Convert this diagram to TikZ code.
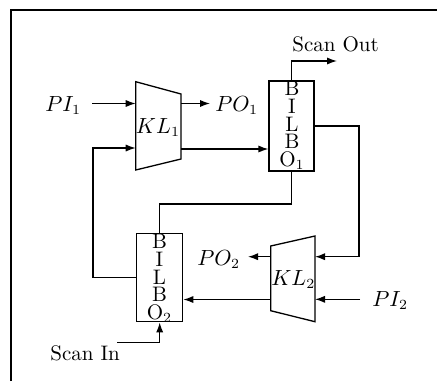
\documentclass[tikz,border=0pt]{standalone}
\usetikzlibrary{arrows.meta,calc}
\begin{document}
\begin{tikzpicture}[x=0.5pt,y=-0.5pt,
  every node/.style={font=\fontsize{10.5}{12.5}\selectfont, inner sep=0pt},
  wire/.style={line width=0.65pt},
  arr/.style={wire,-{Latex[length=5pt,width=3.6pt]}},
  blk/.style={draw, line width=0.65pt, rectangle, inner sep=0pt},
  lbl/.style={anchor=base}]
\useasboundingbox (0,0) rectangle (437,381);
% frame
\draw[line width=0.6pt] (11,381) -- (11,10) -- (437,10);

% KL1 trapezoid
\coordinate (k1a) at (135.7,81.7);
\coordinate (k1b) at (181,94);
\coordinate (k1c) at (181,159);
\coordinate (k1d) at (135.7,170);
\draw[wire] (k1a) -- (k1b) -- (k1c) -- (k1d) -- cycle;
\node[lbl] (k1) at (158,133.3) {$KL_1$};
\coordinate (k1in1) at (135.7,103.5);
\coordinate (k1in2) at (135.7,148);
\coordinate (k1out1) at (181,103.5);
\coordinate (k1out2) at (181,149);

% KL2 trapezoid
\coordinate (k2a) at (270.7,246);
\coordinate (k2b) at (315,236);
\coordinate (k2c) at (315,321.7);
\coordinate (k2d) at (270.7,310.7);
\draw[wire] (k2a) -- (k2b) -- (k2c) -- (k2d) -- cycle;
\node[lbl] (k2) at (293.3,285) {$KL_2$};
\coordinate (k2in1) at (315,256.7);
\coordinate (k2in2) at (315,299.3);
\coordinate (k2out1) at (270.7,256.7);
\coordinate (k2out2) at (270.7,299.5);

% BILBO 1
\node[blk, minimum width=22.5pt, minimum height=45pt] (b1) at (291.5,126) {};
\node[lbl] (b1l1) at (292,95) {B};
\node[lbl] (b1l2) at (292,113.3) {I};
\node[lbl] (b1l3) at (292,131) {L};
\node[lbl] (b1l4) at (292,148.5) {B};
\node[lbl] (b1l5) at (292,166.7) {O$_1$};

% BILBO 2
\node[blk, minimum width=23pt, minimum height=44pt] (b2) at (159.7,277.8) {};
\node[lbl] (b2l1) at (159.5,248.3) {B};
\node[lbl] (b2l2) at (159.5,266) {I};
\node[lbl] (b2l3) at (159.5,284) {L};
\node[lbl] (b2l4) at (159.5,301.7) {B};
\node[lbl] (b2l5) at (159.5,319.3) {O$_2$};

% labels
\node[anchor=base west] (pi1) at (45,111.5) {$PI_1$};
\node[anchor=base west] (po1) at (215,111.7) {$PO_1$};
\node[anchor=base west] (po2) at (197,265) {$PO_2$};
\node[anchor=base west] (pi2) at (372,306.7) {$PI_2$};
\node[anchor=base west] (sout) at (292,51.7) {Scan Out};
\node[anchor=base west] (sin) at (50,360.7) {Scan In};

% free ends
\coordinate (pi1s) at (92,103.5);
\coordinate (po1e) at (210,103.5);
\coordinate (soe) at (337,61);
\coordinate (rr) at (359,126);
\coordinate (pi2s) at (360,299.3);
\coordinate (po2e) at (248,256.7);
\coordinate (lf) at (93,277.8);
\coordinate (sis) at (117,342.7);

% connectors
\draw[arr] (pi1s) -- (k1in1);
\draw[arr] (k1out1) -- (po1e);
\draw[arr] (k1out2) -- (k1out2 -| b1.west);
\draw[arr] (b1.north) |- (soe);
\draw[arr] (b1.east) -- (rr) |- (k2in1);
\draw[arr] (pi2s) -- (k2in2);
\draw[arr] (k2out1) -- (po2e);
\draw[arr] (k2out2) -- (k2out2 -| b2.east);
\draw[wire] (b1.south) -- ++(0,32.3) -| (b2.north);
\draw[arr] (b2.west) -- (lf) |- (k1in2);
\draw[arr] (sis) -| (b2.south);
\end{tikzpicture}
\end{document}
